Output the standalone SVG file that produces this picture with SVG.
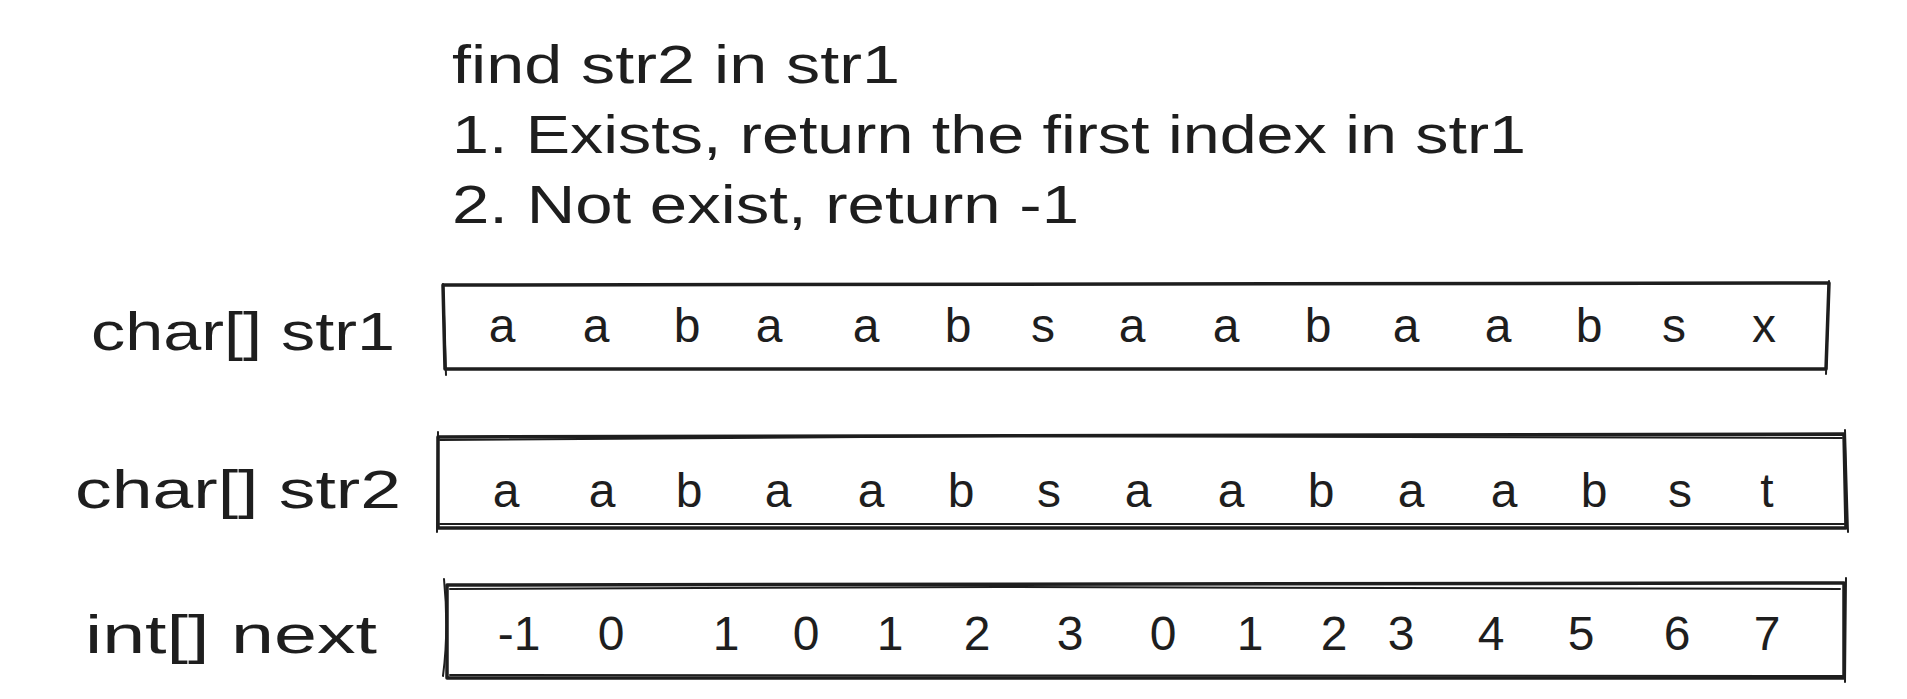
<svg xmlns="http://www.w3.org/2000/svg" width="1907" height="699" viewBox="0 0 1907 699">
<style>
.t{font-family:"Liberation Sans","DejaVu Sans",sans-serif;font-size:53px;fill:#1e1e1e}
.c{font-family:"Liberation Sans","DejaVu Sans",sans-serif;font-size:48px;fill:#1e1e1e;text-anchor:middle}
.s{fill:none;stroke:#1e1e1e;stroke-width:3.5;stroke-linecap:round;stroke-linejoin:round}
.s2{fill:none;stroke:#1e1e1e;stroke-width:2;stroke-linecap:round}
</style>
<rect width="1907" height="699" fill="#ffffff"/>
<g id="title">
<text class="t" x="452" y="83" textLength="448" lengthAdjust="spacingAndGlyphs">find str2 in str1</text>
<text class="t" x="452" y="153" textLength="1074" lengthAdjust="spacingAndGlyphs">1. Exists, return the first index in str1</text>
<text class="t" x="452" y="223" textLength="627" lengthAdjust="spacingAndGlyphs">2. Not exist, return -1</text>
</g>
<g id="str1">
<text class="t" x="91" y="350" textLength="304" lengthAdjust="spacingAndGlyphs">char[] str1</text>
<path class="s" d="M443 285 L1829 283 L1826 369 L445 369 Z"/>
<path class="s2" d="M443 284 L446 375 M1829 281 L1826 374"/>
<g class="c">
<text x="502" y="342">a</text><text x="596" y="342">a</text><text x="687" y="342">b</text><text x="769" y="342">a</text><text x="866" y="342">a</text><text x="958" y="342">b</text><text x="1043" y="342">s</text><text x="1132" y="342">a</text><text x="1226" y="342">a</text><text x="1318" y="342">b</text><text x="1406" y="342">a</text><text x="1498" y="342">a</text><text x="1589" y="342">b</text><text x="1674" y="342">s</text><text x="1764" y="342">x</text>
</g>
</g>
<g id="str2">
<text class="t" x="75" y="508" textLength="326" lengthAdjust="spacingAndGlyphs">char[] str2</text>
<path class="s" d="M438 437 L1844 434 L1846 528 L438 528 Z"/>
<path class="s2" d="M440 440 L1000 436 L1842 438 M438 432 L437 532 M1845 430 L1848 532 M440 524 L1846 524"/>
<g class="c">
<text x="506" y="507">a</text><text x="602" y="507">a</text><text x="689" y="507">b</text><text x="778" y="507">a</text><text x="871" y="507">a</text><text x="961" y="507">b</text><text x="1049" y="507">s</text><text x="1138" y="507">a</text><text x="1231" y="507">a</text><text x="1321" y="507">b</text><text x="1411" y="507">a</text><text x="1504" y="507">a</text><text x="1594" y="507">b</text><text x="1680" y="507">s</text><text x="1767" y="507">t</text>
</g>
</g>
<g id="next">
<text class="t" x="85" y="653" textLength="292" lengthAdjust="spacingAndGlyphs">int[] next</text>
<path class="s" d="M447 585 L1844 583 L1844 678 L447 678 Z"/>
<path class="s2" d="M444 579 Q449 630 443 676 M450 589 L1000 587 L1840 589 M1846 578 L1845 682 M450 675 L1844 676"/>
<g class="c">
<text x="519" y="650">-1</text><text x="611" y="650">0</text><text x="726" y="650">1</text><text x="806" y="650">0</text><text x="890" y="650">1</text><text x="977" y="650">2</text><text x="1070" y="650">3</text><text x="1163" y="650">0</text><text x="1250" y="650">1</text><text x="1334" y="650">2</text><text x="1401" y="650">3</text><text x="1491" y="650">4</text><text x="1581" y="650">5</text><text x="1677" y="650">6</text><text x="1767" y="650">7</text>
</g>
</g>
</svg>
